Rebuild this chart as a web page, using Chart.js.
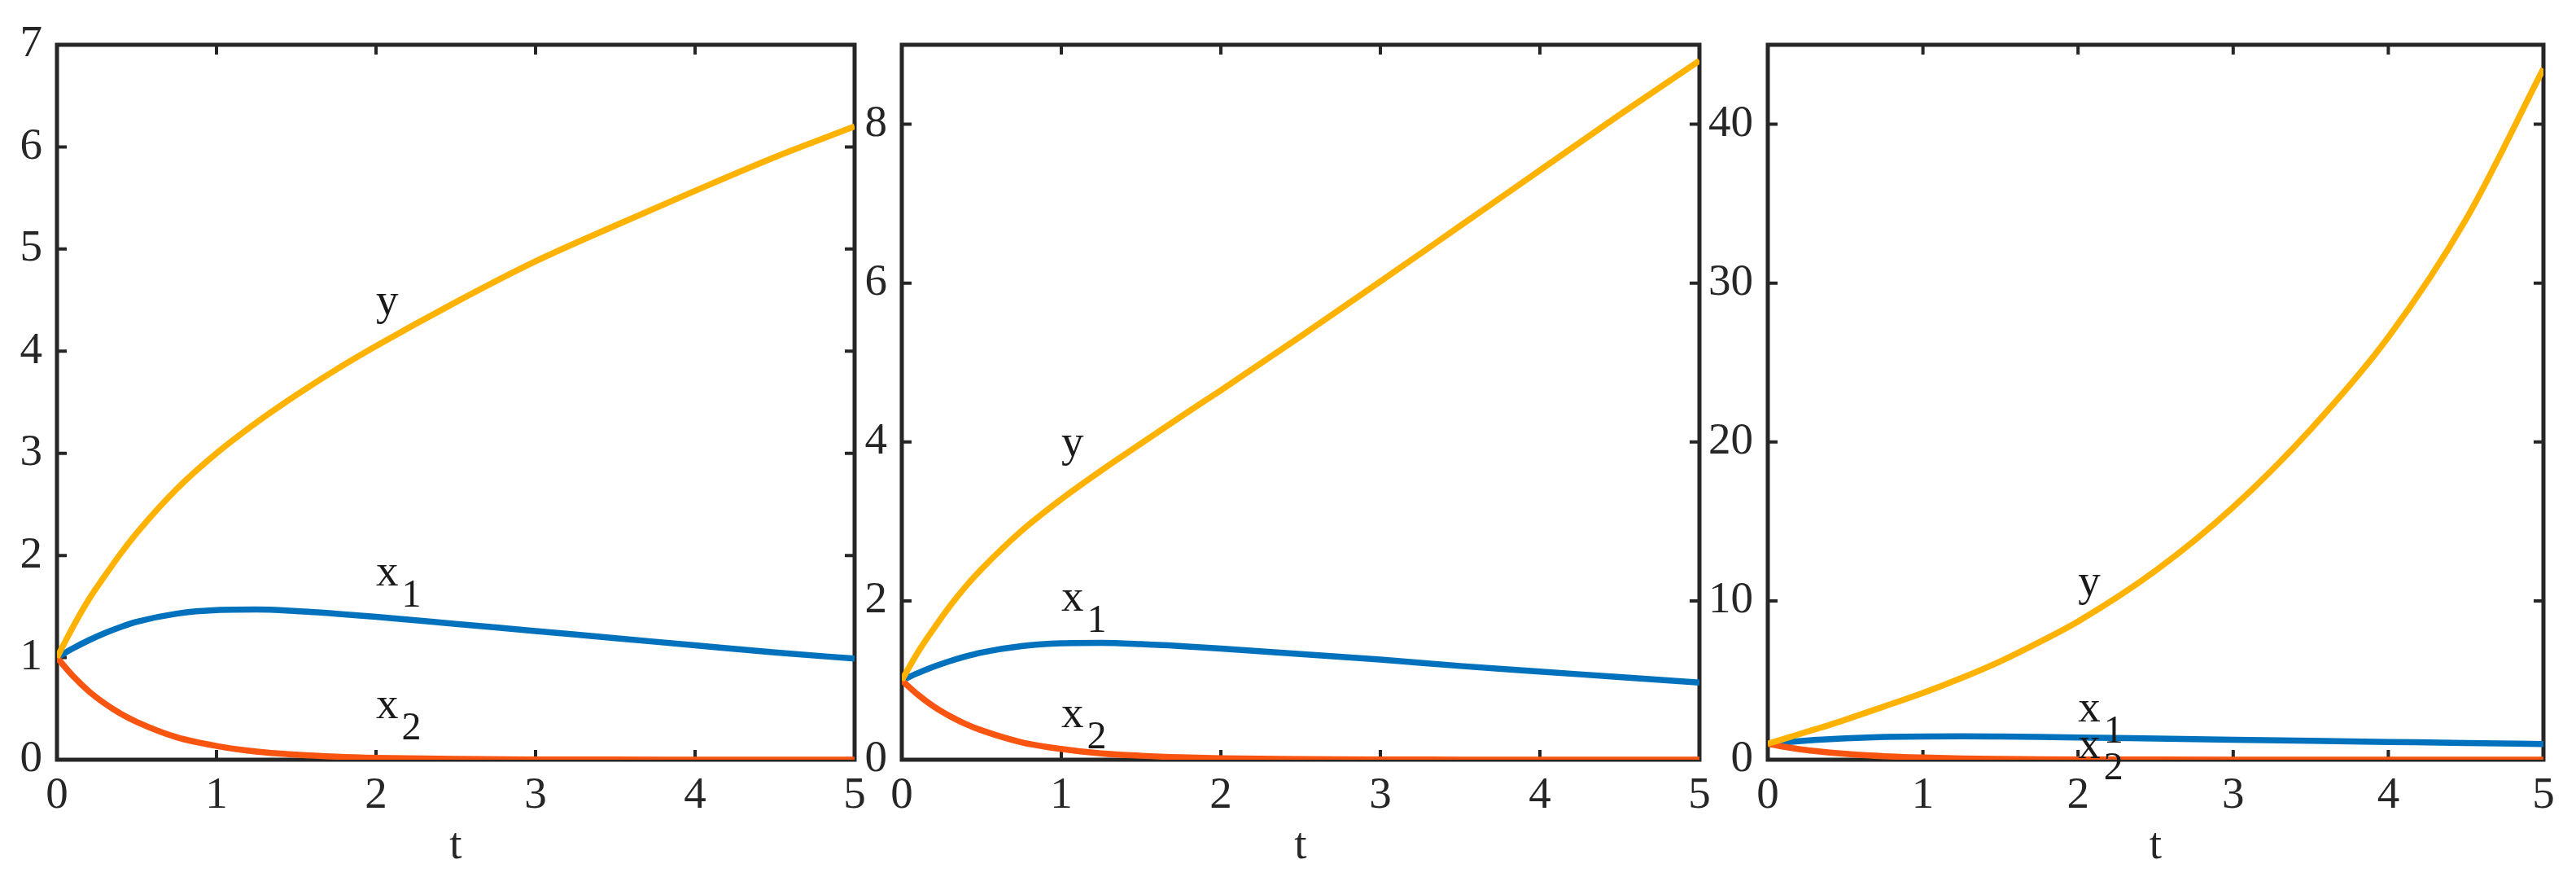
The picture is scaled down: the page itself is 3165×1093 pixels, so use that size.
<!DOCTYPE html>
<html><head><meta charset="utf-8">
<script src="https://cdn.jsdelivr.net/npm/chart.js@4.4.1/dist/chart.umd.min.js"></script>
<style>
html,body{margin:0;padding:0;background:#fff;overflow:hidden;}
#wrap{position:relative;width:3165px;height:1093px;overflow:hidden;}
#wrap canvas{position:absolute;top:0;}
</style></head><body><div id="wrap"></div>
<script>
// ---- data ----
const tValues = [0,0.1,0.2,0.3,0.4,0.5,0.75,1,1.25,1.5,1.75,2,2.5,3,3.5,4,4.5,5];

const p1_y  = [1,1.3,1.57,1.8,2.02,2.22,2.65,3.0,3.3,3.57,3.82,4.05,4.48,4.88,5.23,5.57,5.9,6.2];
const p1_x1 = [1,1.09,1.17,1.24,1.3,1.35,1.43,1.465,1.47,1.455,1.43,1.4,1.33,1.26,1.19,1.12,1.05,0.99];
const p1_x2 = [1,0.82,0.67,0.55,0.45,0.37,0.22,0.135,0.08,0.05,0.03,0.018,0.007,0.0025,0.001,0.0003,0.0001,0];

const p2_y  = [1,1.35,1.65,1.93,2.18,2.4,2.88,3.28,3.64,3.98,4.32,4.65,5.33,6.02,6.72,7.42,8.12,8.8];
const p2_x1 = [1,1.09,1.17,1.24,1.3,1.35,1.43,1.465,1.47,1.455,1.43,1.4,1.33,1.26,1.18,1.11,1.04,0.97];
const p2_x2 = [1,0.82,0.67,0.55,0.45,0.37,0.22,0.135,0.08,0.05,0.03,0.018,0.007,0.0025,0.001,0.0003,0.0001,0];

const p3_y  = [1,1.3,1.6,1.9,2.2,2.52,3.35,4.2,5.15,6.2,7.4,8.7,11.9,15.9,20.8,26.6,34.0,43.5];
const p3_x1 = [1,1.09,1.17,1.24,1.3,1.35,1.43,1.465,1.47,1.455,1.43,1.4,1.33,1.26,1.19,1.12,1.05,0.99];
const p3_x2 = [1,0.82,0.67,0.55,0.45,0.37,0.22,0.135,0.08,0.05,0.03,0.018,0.007,0.0025,0.001,0.0003,0.0001,0];

const xTicks = [0,1,2,3,4,5];
const p1_yTicks = [0,1,2,3,4,5,6,7];
const p2_yTicks = [0,2,4,6,8];
const p3_yTicks = [0,10,20,30,40];
const yMaxes = [7, 9, 45];
const xTitle = 't';

// curve labels: main text, subscript, data position (left, baseline)
const p1_notes = [{m:'y',s:'',x:2.0,y:4.36},{m:'x',s:'1',x:2.0,y:1.71},{m:'x',s:'2',x:2.0,y:0.41}];
const p2_notes = [{m:'y',s:'',x:1.0,y:3.82},{m:'x',s:'1',x:1.0,y:1.88},{m:'x',s:'2',x:1.0,y:0.41}];
const p3_notes = [{m:'y',s:'',x:2.0,y:10.35},{m:'x',s:'1',x:2.0,y:2.4},{m:'x',s:'2',x:2.0,y:0.1}];

// ---- styling / layout ----
const COL_Y = '#FFB300', COL_X1 = '#0072BD', COL_X2 = '#FA5510';
const AX = '#262626';
const FONT = 'Liberation Serif';
const TOP = 55, BOTTOM = 933, H = 1093;
const YAXIS_W = 100, RIGHT_PAD = 40;

const panels = [
  {L:70,   R:1050, ymax:yMaxes[0], yticks:p1_yTicks, y:p1_y, x1:p1_x1, x2:p1_x2, notes:p1_notes},
  {L:1108, R:2088, ymax:yMaxes[1], yticks:p2_yTicks, y:p2_y, x1:p2_x1, x2:p2_x2, notes:p2_notes},
  {L:2172, R:3125, ymax:yMaxes[2], yticks:p3_yTicks, y:p3_y, x1:p3_x1, x2:p3_x2, notes:p3_notes}
];

const framePlugin = {
  id:'frame',
  beforeDatasetsDraw(chart){
    const {ctx, chartArea:a, scales} = chart;
    ctx.save();
    ctx.strokeStyle = AX; ctx.lineWidth = 5;
    ctx.strokeRect(a.left, a.top, a.right-a.left, a.bottom-a.top);
    ctx.lineWidth = 4;
    const tl = 12;
    ctx.beginPath();
    scales.x.ticks.forEach(tk=>{
      const px = scales.x.getPixelForValue(tk.value);
      if (px <= a.left+1 || px >= a.right-1) return;
      ctx.moveTo(px, a.bottom); ctx.lineTo(px, a.bottom - tl);
      ctx.moveTo(px, a.top); ctx.lineTo(px, a.top + tl);
    });
    scales.y.ticks.forEach(tk=>{
      const py = scales.y.getPixelForValue(tk.value);
      if (py <= a.top+1 || py >= a.bottom-1) return;
      ctx.moveTo(a.left, py); ctx.lineTo(a.left + tl, py);
      ctx.moveTo(a.right, py); ctx.lineTo(a.right - tl, py);
    });
    ctx.stroke();
    ctx.restore();
  },
  afterDatasetsDraw(chart){
    const {ctx, scales} = chart;
    const notes = chart.options.plugins.frame.notes || [];
    ctx.save();
    ctx.fillStyle = '#1a1a1a';
    ctx.textAlign = 'left'; ctx.textBaseline = 'alphabetic';
    notes.forEach(n=>{
      const px = scales.x.getPixelForValue(n.x);
      const py = scales.y.getPixelForValue(n.y);
      ctx.font = '55px "' + FONT + '"';
      ctx.fillText(n.m, px, py);
      if (n.s){
        const w = ctx.measureText(n.m).width;
        ctx.font = '48px "' + FONT + '"';
        ctx.fillText(n.s, px + w + 4, py + 26);
      }
    });
    ctx.restore();
  }
};

panels.forEach((p)=>{
  const c = document.createElement('canvas');
  const left = p.L - YAXIS_W;
  const width = (p.R - p.L) + YAXIS_W + RIGHT_PAD;
  c.width = width; c.height = H;
  c.style.left = left + 'px';
  c.style.width = width + 'px'; c.style.height = H + 'px';
  document.getElementById('wrap').appendChild(c);
  const mk = (arr)=>tValues.map((t,i)=>({x:t, y:arr[i]}));
  new Chart(c, {
    type:'line',
    data:{datasets:[
      {label:'y', data:mk(p.y), borderColor:COL_Y, borderWidth:7.5, pointRadius:0, cubicInterpolationMode:'monotone', fill:false},
      {label:'x2', data:mk(p.x2), borderColor:COL_X2, borderWidth:7.5, pointRadius:0, cubicInterpolationMode:'monotone', fill:false},
      {label:'x1', data:mk(p.x1), borderColor:COL_X1, borderWidth:7.5, pointRadius:0, cubicInterpolationMode:'monotone', fill:false}
    ]},
    options:{
      responsive:false, maintainAspectRatio:false, animation:false, devicePixelRatio:1,
      layout:{padding:{top:TOP, right:RIGHT_PAD, left:0, bottom:0}},
      plugins:{legend:{display:false}, tooltip:{enabled:false}, frame:{notes:p.notes}},
      scales:{
        x:{type:'linear', min:0, max:5,
           afterBuildTicks:s=>{s.ticks = xTicks.map(v=>({value:v}));},
           afterFit:s=>{s.height = H - BOTTOM;},
           ticks:{font:{family:FONT,size:55}, color:AX, padding:12, maxRotation:0, autoSkip:false},
           grid:{display:false, drawTicks:false}, border:{display:false},
           title:{display:true, text:xTitle, font:{family:FONT,size:55}, color:AX, padding:{top:0,bottom:20}}},
        y:{type:'linear', min:0, max:p.ymax,
           afterBuildTicks:s=>{s.ticks = p.yticks.map(v=>({value:v}));},
           afterFit:s=>{s.width = YAXIS_W;},
           ticks:{font:{family:FONT,size:55}, color:AX, padding:18, autoSkip:false},
           grid:{display:false, drawTicks:false}, border:{display:false}}
      }
    },
    plugins:[framePlugin]
  });
});
</script></body></html>
